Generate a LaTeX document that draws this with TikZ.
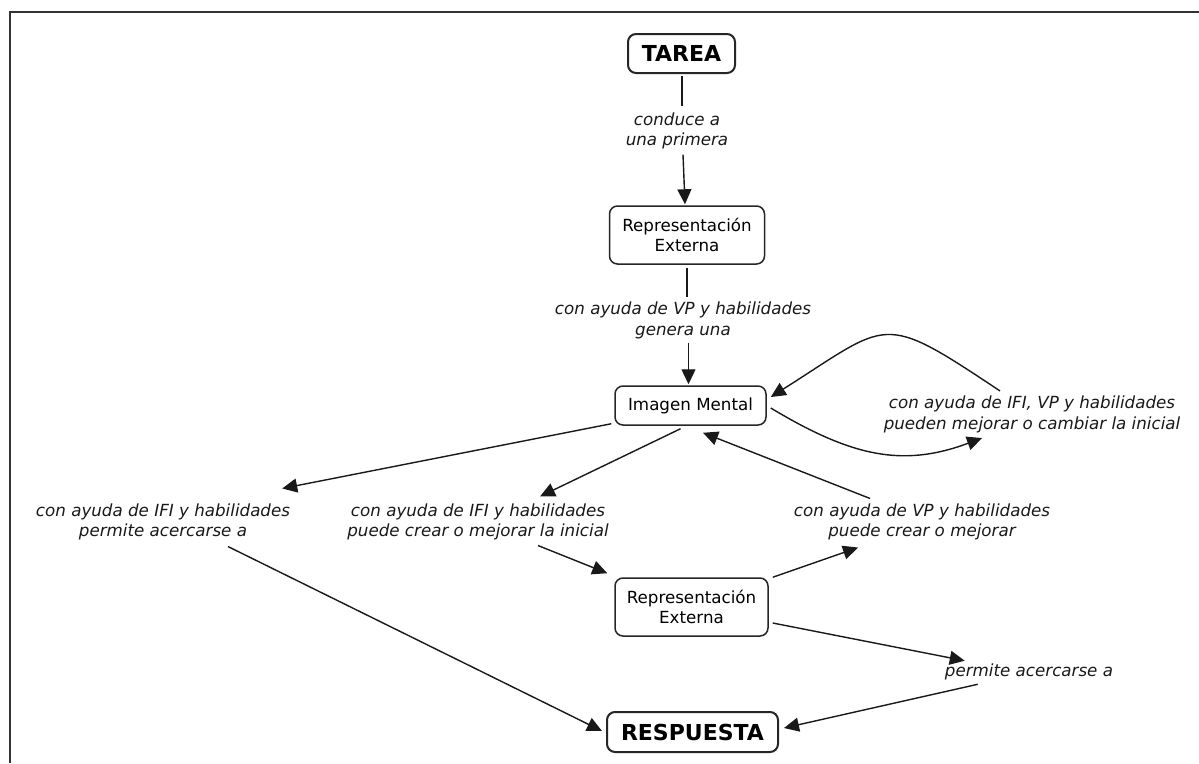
\documentclass[tikz,border=0pt]{standalone}
\usepackage{fontspec}
\setmainfont{DejaVu Sans}
\usetikzlibrary{arrows.meta,calc}
\begin{document}
\begin{tikzpicture}[x=1pt,y=-1pt,
  concept/.style={draw=black!85, fill=white, line width=1.5pt, rounded corners=8pt,
    inner sep=0pt, align=center, font=\fontsize{16.7}{20.5}\selectfont},
  keyconcept/.style={concept, line width=2pt, font=\fontsize{22}{26}\selectfont\bfseries},
  linkphrase/.style={inner sep=0pt, align=center, text=black!90,
    font=\fontsize{16.7}{20.5}\selectfont\itshape},
  link/.style={draw=black!90, line width=1.4pt},
  linkarrow/.style={link, -{Triangle[length=15pt,width=14pt]}},
]
\useasboundingbox (0,0) rectangle (1199,763);
% page frame (top and left rules)
\draw[line width=2pt, black!80] (1199,11.5) -- (10,11.5) -- (10,763);

% concepts
\node[keyconcept, minimum width=107pt, minimum height=39pt] (tarea) at (681.5,53.5) {TAREA};
\node[concept, minimum width=155pt, minimum height=58pt] (rep1) at (687,235) {Representación\\Externa};
\node[concept, minimum width=151pt, minimum height=39pt] (imagen) at (690.5,405.5) {Imagen Mental};
\node[concept, minimum width=153pt, minimum height=58pt] (rep2) at (691.5,607) {Representación\\Externa};
\node[keyconcept, minimum width=171pt, minimum height=40pt] (resp) at (692.5,732) {RESPUESTA};

% linking phrases
\node[linkphrase] (l1) at (677,131) {conduce a\\una primera};
\node[linkphrase] (l2) at (683,320.5) {con ayuda de VP y habilidades\\genera una};
\node[linkphrase] (lr) at (1032,414.5) {con ayuda de IFI, VP y habilidades\\pueden mejorar o cambiar la inicial};
\node[linkphrase] (ll) at (163,522) {con ayuda de IFI y habilidades\\permite acercarse a};
\node[linkphrase] (lm) at (478,522) {con ayuda de IFI y habilidades\\puede crear o mejorar la inicial};
\node[linkphrase] (lvp) at (922,522) {con ayuda de VP y habilidades\\puede crear o mejorar};
\node[linkphrase] (lp) at (1029,672) {permite acercarse a};

% connectors
\draw[link] ($(tarea.south)+(0.5,2)$) -- ($(tarea.south |- l1.north)+(0.5,-6)$);
\draw[linkarrow] ($(l1.south)+(6,5)$) -- ($(rep1.north)+(-2,-1)$);
\draw[link] ($(rep1.south)+(0,3)$) -- ($(rep1.south |- l2.north)+(0,-5)$);
\draw[linkarrow] ($(imagen.north |- l2.south)+(-2,4)$) -- ($(imagen.north)+(-2,-1)$);
\draw[linkarrow] ($(imagen.south west)+(-3,-2)$) -- ($(ll.north east)+(-8,-15)$);
\draw[linkarrow] ($(ll.south)+(65,6)$) -- ($(resp.west)+(-4,-1)$);
\draw[linkarrow] ($(imagen.south)+(-10,3)$) -- ($(lm.north)+(62,-7)$);
\draw[linkarrow] ($(lm.south)+(60,5)$) -- ($(rep2.north west)+(-7,-4)$);
\draw[linkarrow] ($(rep2.north east)+(4,0)$) -- ($(lvp.south)+(-64,7)$);
\draw[linkarrow] ($(lvp.north)+(-52,-5)$) -- ($(imagen.south)+(12.5,7)$);
\draw[linkarrow] ($(rep2.east)+(4,16)$) -- ($(lp.north west)+(20,-3)$);
\draw[linkarrow] ($(lp.south west)+(33,4)$) -- ($(resp.east)+(5,-4)$);
% self-loop of Imagen Mental through its linking phrase
\draw[linkarrow] ($(imagen.east)+(4,2.5)$) .. controls +(80,48) and +(-80,30) .. ($(lr.south)+(-50,5)$);
\draw[linkarrow] ($(lr.north)+(-32,-5)$) .. controls +(-120,-80) and +(120,-76) .. ($(imagen.east)+(4,-8.5)$);
\end{tikzpicture}
\end{document}
